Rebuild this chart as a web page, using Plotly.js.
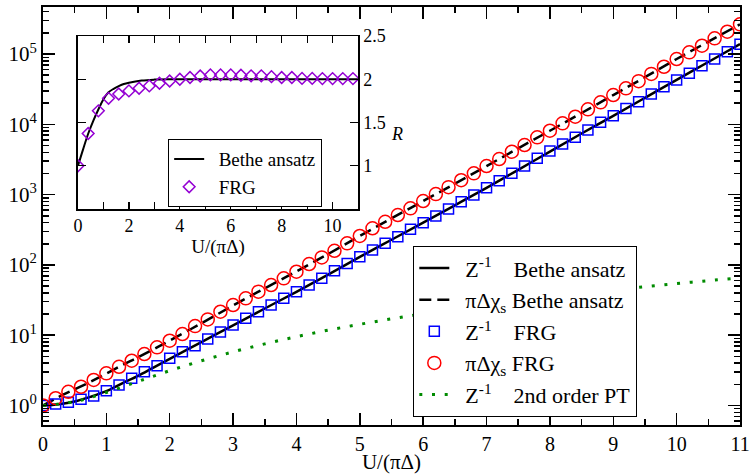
<!DOCTYPE html>
<html><head><meta charset="utf-8">
<script src="https://cdn.plot.ly/plotly-3.0.1.min.js"></script>
<style>html,body{margin:0;padding:0;background:#fff}</style>
</head><body><div id="chart" style="width:751px;height:474px"></div>
<script>
// ---- main chart data ----
const uFRG = [0,0.2,0.4,0.6,0.8,1.0,1.2,1.4,1.6,1.8,2.0,2.2,2.4,2.6,2.8,3.0,3.2,3.4,3.6,3.8,4.0,4.2,4.4,4.6,4.8,5.0,5.2,5.4,5.6,5.8,6.0,6.2,6.4,6.6,6.8,7.0,7.2,7.4,7.6,7.8,8.0,8.2,8.4,8.6,8.8,9.0,9.2,9.4,9.6,9.8,10.0,10.2,10.4,10.6,10.8,11.0];
const zInvFRG = [1.00,1.05,1.11,1.225,1.365,1.62,1.96,2.44,3.03,3.68,4.69,5.82,7.09,8.83,11.1,14.0,17.4,21.6,26.9,33.5,41.6,51.8,64.5,82.6,105,131,163,203,252,321,398,496,624,793,986,1253,1578,2010,2553,3282,4169,5248,6531,8299,10670,13250,16790,20940,26980,34280,42660,53090,68230,84920,107900,137400];
const chiFRG = [1.00,1.27,1.57,1.85,2.31,2.87,3.56,4.34,5.40,6.73,8.35,10.4,13.5,16.8,21.6,26.9,33.5,41.7,51.8,64.5,80.0,103,128,159,203,258,332,411,513,638,811,1018,1277,1603,2010,2553,3207,4074,5078,6531,8110,10330,12830,16340,20560,26120,32510,41150,52100,65920,84920,105700,131200,167100,207500,264200];
const uBA = [0,0.25,0.5,0.75,1.0,1.25,1.5,1.75,2.0,2.5,3.0,3.5,4.0,4.5,5.0,5.5,6.0,6.5,7.0,7.5,8.0,8.5,9.0,9.5,10.0,10.5,11.0];
const zInvBA = [1.0,1.04,1.14,1.33,1.6,2.07,2.65,3.5,4.6,8.0,13.8,24,41.5,73,130,228,400,705,1250,2250,4100,7400,13200,23800,43000,77000,139000];
const chiBA = [1.0,1.33,1.7,2.18,2.85,3.75,4.85,6.35,8.4,14.8,26.5,46.5,81,143,258,460,811,1430,2550,4560,8110,14500,26100,46800,84900,150000,264000];
const uPT = [0,0.5,1.0,1.5,2.0,2.5,3.0,3.5,4.0,4.5,5.0,5.5,6.0,6.5,7.0,7.5,8.0,8.5,9.0,9.5,10.0,10.5,11.0];
const zInvPT = [1.0,1.133,1.533,2.2,3.13,4.33,5.8,7.53,9.53,11.8,14.3,17.1,20.2,23.5,27.1,31.0,35.1,39.5,44.2,49.1,54.3,59.8,65.5];
const yTickVals = [1,10,100,1000,10000,100000];
const yTickText = ['10<sup>0</sup>','10<sup>1</sup>','10<sup>2</sup>','10<sup>3</sup>','10<sup>4</sup>','10<sup>5</sup>'];
// ---- inset data ----
const uRFRG = [0,0.4,0.8,1.2,1.6,2.0,2.4,2.8,3.2,3.6,4.0,4.4,4.8,5.2,5.6,6.0,6.4,6.8,7.2,7.6,8.0,8.4,8.8,9.2,9.6,10.0,10.4,10.8];
const rFRG = [1.0,1.373,1.635,1.78,1.83,1.865,1.896,1.923,1.954,1.98,2.0,2.02,2.038,2.05,2.05,2.05,2.046,2.04,2.04,2.03,2.02,2.02,2.01,2.01,2.008,2.008,2.008,2.008];
const uRBA = [0,0.2,0.4,0.6,0.8,1.0,1.2,1.4,1.6,1.8,2.0,2.5,3.0,3.5,4.0,5.0,6.0,7.0,8.0,9.0,10.0,11.0];
const rBA = [1.0,1.19,1.37,1.52,1.65,1.77,1.85,1.89,1.92,1.945,1.96,1.985,1.996,2.0,2.0,2.0,2.0,2.0,2.0,2.0,2.0,2.0];

const FONT = 'Liberation Serif, Times New Roman, serif';
const NB = '\u00a0';
const pad = n => NB.repeat(n);
const minorVals = [];
for (let d = -1; d <= 5; d++) for (let k = 2; k <= 9; k++) minorVals.push(k * Math.pow(10, d));

const traces = [
  {x:uBA, y:zInvBA, mode:'lines', line:{color:'black', width:2.5, shape:'spline'},
   name:pad(2)+'Z<sup>-1</sup>'+pad(4)+'Bethe ansatz', legend:'legend'},
  {x:uBA, y:chiBA, mode:'lines', line:{color:'black', width:2.5, dash:'12px,6px', shape:'spline'},
   name:pad(2)+'πΔχ<sub>s</sub>'+pad(1)+'Bethe ansatz', legend:'legend'},
  {x:uFRG, y:zInvFRG, mode:'markers', marker:{symbol:'square-open', size:10, color:'#0000ff', line:{width:1.5, color:'#0000ff'}},
   name:pad(2)+'Z<sup>-1</sup>'+pad(4)+'FRG', legend:'legend'},
  {x:uFRG, y:chiFRG, mode:'markers', marker:{symbol:'circle-open', size:13, color:'#ff0000', line:{width:1.5, color:'#ff0000'}},
   name:pad(2)+'πΔχ<sub>s</sub>'+pad(1)+'FRG', legend:'legend'},
  {x:uPT, y:zInvPT, mode:'lines', line:{color:'rgb(0,139,0)', width:3, dash:'3px,9.7px', shape:'spline'},
   name:pad(2)+'Z<sup>-1</sup>'+pad(4)+'2nd order PT', legend:'legend'},
  {x:uRBA, y:rBA, xaxis:'x2', yaxis:'y2', mode:'lines', line:{color:'black', width:2, shape:'spline'},
   name:pad(2)+'Bethe ansatz', legend:'legend2'},
  {x:uRFRG, y:rFRG, xaxis:'x2', yaxis:'y2', mode:'markers',
   marker:{symbol:'diamond-open', size:9, color:'rgb(148,0,211)', line:{width:1.5, color:'rgb(148,0,211)'}},
   name:pad(2)+'FRG', legend:'legend2'}
];

const axBase = {showgrid:false, zeroline:false, showline:true, linecolor:'black', mirror:'allticks',
  ticks:'inside', tickcolor:'black'};

const layout = {
  width:751, height:474,
  margin:{l:43, r:11, t:7, b:49},
  paper_bgcolor:'white', plot_bgcolor:'white',
  font:{family:FONT, color:'black'},
  showlegend:true,
  xaxis: Object.assign({}, axBase, {
    domain:[0,1], range:[0,11], tick0:0, dtick:1, ticklen:12, tickwidth:1.5, linewidth:2,
    minor:{dtick:0.5, ticks:'inside', ticklen:6, tickwidth:1.5, tickcolor:'black'},
    tickfont:{family:FONT, size:20, color:'black'},
    title:{text:'U/(πΔ)', font:{family:FONT, size:21, color:'black'}, standoff:3}
  }),
  yaxis: Object.assign({}, axBase, {
    domain:[0,1], type:'log', range:[-0.277,5.669], tickmode:'array', tickvals:yTickVals, ticktext:yTickText,
    ticklen:12, tickwidth:1.5, linewidth:2,
    minor:{tickmode:'array', tickvals:minorVals, ticks:'inside', ticklen:6, tickwidth:1.5, tickcolor:'black'},
    tickfont:{family:FONT, size:21, color:'black'}
  }),
  xaxis2: Object.assign({}, axBase, {
    domain:[0.0502,0.452], anchor:'y2', range:[0,11], tick0:0, dtick:2, ticklen:7, tickwidth:1.2, linewidth:1.5,
    minor:{dtick:1, ticks:'inside', ticklen:7, tickwidth:1.2, tickcolor:'black'},
    tickfont:{family:FONT, size:18, color:'black'},
    title:{text:'U/(πΔ)', font:{family:FONT, size:19, color:'black'}, standoff:2}
  }),
  yaxis2: Object.assign({}, axBase, {
    domain:[0.5167,0.9306], anchor:'x2', side:'right', range:[0.5,2.5], tickmode:'array', tickvals:[1,1.5,2,2.5],
    ticklen:8, tickwidth:1.2, linewidth:1.5,
    tickfont:{family:FONT, size:18, color:'black'}
  }),
  legend:{x:0.531, y:0.428, xanchor:'left', yanchor:'top', bgcolor:'white', bordercolor:'black', borderwidth:1.2,
    font:{family:FONT, size:22, color:'black'}, tracegroupgap:0},
  legend2:{x:0.1793, y:0.6842, xanchor:'left', yanchor:'top', bgcolor:'white', bordercolor:'black', borderwidth:1.2,
    font:{family:FONT, size:19, color:'black'}, tracegroupgap:0},
  annotations:[
    {xref:'paper', yref:'paper', x:0.508, y:0.7249, text:'<i>R</i>', showarrow:false,
     font:{family:FONT, size:18, color:'black'}}
  ]
};

Plotly.newPlot('chart', traces, layout, {displayModeBar:false, staticPlot:true});
</script></body></html>
